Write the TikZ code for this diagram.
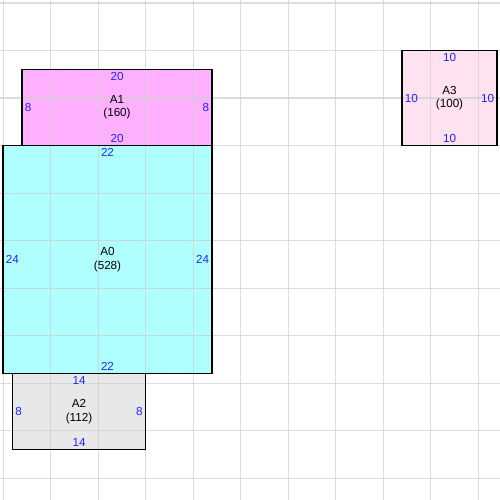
\documentclass[tikz,border=0pt]{standalone}
\usepackage{fontspec}
\setmainfont{Liberation Sans}
\definecolor{gridgray}{HTML}{D0D0D0}
\definecolor{fillzero}{HTML}{B0FFFF}
\definecolor{fillone}{HTML}{FFB0FF}
\definecolor{filltwo}{HTML}{E8E8E8}
\definecolor{fillthree}{HTML}{FFE2F0}
\definecolor{sizeblue}{HTML}{2222FF}
\tikzset{
  sheet/.style={draw=black, line width=0.7pt},
  gridline/.style={gridgray, line width=0.6pt, opacity=0.75},
  side/.style={text=sizeblue, font=\fontsize{7}{8}\selectfont, inner sep=1.5pt},
  areatext/.style={align=center, font=\fontsize{7}{8}\selectfont, inner sep=0pt}
}
\begin{document}
\begin{tikzpicture}[x=0.2cm, y=-0.2cm]
\useasboundingbox (-0.316,-0.316) rectangle (52.316,52.316);
% Fill the sheets
\fill[fillone] (2,7) rectangle (22,15);
\fill[fillzero] (0,15) rectangle (22,39);
\fill[filltwo] (1,39) rectangle (15,47);
\fill[fillthree] (42,5) rectangle (52,15);
% Grid on top, light
\foreach \g in {0,5,...,50} {
  \draw[gridline] (\g,-0.316) -- (\g,52.316);
  \draw[gridline] (-0.316,\g) -- (52.316,\g);
}
% Outline the sheets
\draw[sheet] (2,7) rectangle (22,15);
\draw[sheet] (0,15) rectangle (22,39);
\draw[sheet] (1,39) rectangle (15,47);
\draw[sheet] (42,5) rectangle (52,15);
% Sheet A1
\node[areatext] (aone) at (12,11) {A1\\(160)};
\node[side, anchor=north] (aonetop) at (12,7) {20};
\node[side, anchor=south] (aonebot) at (12,15) {20};
\node[side, anchor=west] (aoneleft) at (2,11) {8};
\node[side, anchor=east] (aoneright) at (22,11) {8};
% Sheet A0
\node[areatext] (azero) at (11,27) {A0\\(528)};
\node[side, anchor=north] (azerotop) at (11,15) {22};
\node[side, anchor=south] (azerobot) at (11,39) {22};
\node[side, anchor=west] (azeroleft) at (0,27) {24};
\node[side, anchor=east] (azeroright) at (22,27) {24};
% Sheet A2
\node[areatext] (atwo) at (8,43) {A2\\(112)};
\node[side, anchor=north] (atwotop) at (8,39) {14};
\node[side, anchor=south] (atwobot) at (8,47) {14};
\node[side, anchor=west] (atwoleft) at (1,43) {8};
\node[side, anchor=east] (atworight) at (15,43) {8};
% Sheet A3
\node[areatext] (athree) at (47,10) {A3\\(100)};
\node[side, anchor=north] (athreetop) at (47,5) {10};
\node[side, anchor=south] (athreebot) at (47,15) {10};
\node[side, anchor=west] (athreeleft) at (42,10) {10};
\node[side, anchor=east] (athreeright) at (52,10) {10};
\end{tikzpicture}
\end{document}
